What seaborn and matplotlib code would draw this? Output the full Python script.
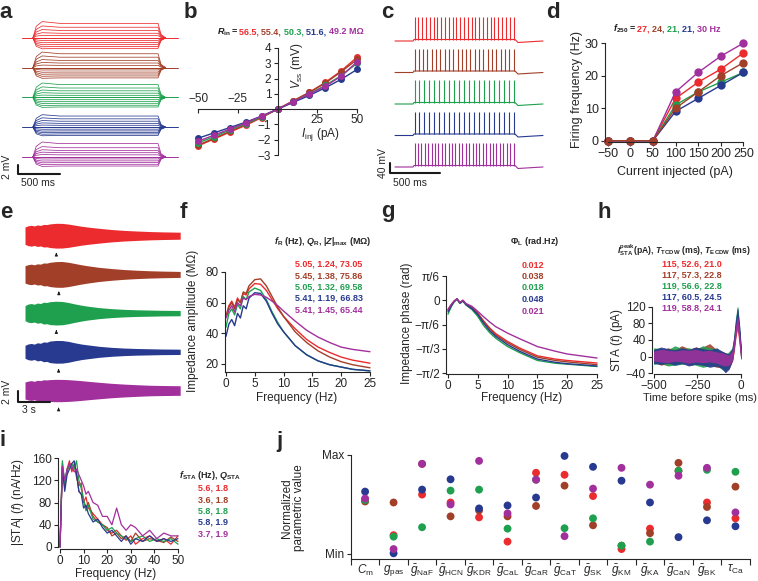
import matplotlib
matplotlib.use("Agg")
import matplotlib.pyplot as plt
import seaborn as sns
import pandas as pd
from matplotlib.offsetbox import TextArea, HPacker, AnnotationBbox

cell_colors = ["#ec2b2e", "#a23f29", "#1fa04f", "#273a90", "#a2309c"]

# b: steady-state voltage vs injected current
i_inj = [-50, -40, -30, -20, -10, 0, 10, 20, 30, 40, 50]
vss_red = [-2.4, -1.95, -1.5, -1.05, -0.55, 0, 0.55, 1.1, 1.75, 2.5, 3.4]
vss_brown = [-2.35, -1.9, -1.45, -1.0, -0.5, 0, 0.55, 1.1, 1.7, 2.45, 3.25]
vss_green = [-2.2, -1.8, -1.35, -0.95, -0.5, 0, 0.5, 1.0, 1.55, 2.2, 3.0]
vss_blue = [-1.9, -1.55, -1.2, -0.85, -0.45, 0, 0.45, 0.9, 1.4, 1.95, 2.6]
vss_purple = [-2.1, -1.7, -1.3, -0.9, -0.45, 0, 0.5, 1.0, 1.5, 2.15, 3.1]
rin = ["56.5", "55.4", "50.3", "51.6", "49.2"]

# d: firing frequency vs current
i_step = [-50, 0, 50, 100, 150, 200, 250]
fr_red = [0, 0, 0, 13, 18, 22, 27]
fr_brown = [0, 0, 0, 10, 15, 20, 24]
fr_green = [0, 0, 0, 11, 15, 18, 21]
fr_blue = [0, 0, 0, 9, 13, 17, 21]
fr_purple = [0, 0, 0, 15, 21, 26, 30]
f250 = [27, 24, 21, 21, 30]

# f: impedance amplitude
freq_z = [0, 0.5, 1, 1.5, 2, 2.5, 3, 3.5, 4, 5, 6, 7, 8, 9, 10, 12, 14, 16, 18, 20, 22, 25]
z_red = [51, 58, 61, 57, 63, 60, 66, 65, 69, 72.5, 72, 68, 62, 56, 51, 43, 36, 31, 27.5, 24.5, 22.5, 20.5]
z_brown = [51, 57, 60, 56, 62, 60, 67, 66, 71, 75, 75.5, 71, 64, 57, 51, 41, 34, 28.5, 24.5, 21.5, 19.5, 17.5]
z_green = [44, 53, 56, 52, 59, 56, 64, 62, 67, 69.5, 68, 62, 54, 47, 41, 32, 26, 22, 19.5, 18, 16.5, 15.5]
z_blue = [38, 46, 49, 45, 53, 50, 58, 56, 63, 66.5, 66, 61, 53, 46, 41, 32, 26, 22, 19.5, 18, 16.5, 15.5]
z_purple = [50, 55, 58, 54, 60, 58, 63, 62, 64, 65.4, 65, 63.5, 61, 58, 54.5, 48, 42, 37.5, 34, 31, 29.5, 28]
f_res = [5.05, 5.45, 5.05, 5.41, 5.41]
z_text = ["5.05, 1.24, 73.05", "5.45, 1.38, 75.86", "5.05, 1.32, 69.58",
          "5.41, 1.19, 66.83", "5.41, 1.45, 65.44"]

# g: impedance phase (rad)
freq_ph = [0, 0.5, 1, 1.5, 2, 2.5, 3, 3.5, 4, 5, 6, 7, 8, 10, 12, 15, 18, 20, 25]
ph_red = [-0.2, -0.1, -0.02, 0.03, -0.05, 0.0, -0.08, -0.12, -0.15, -0.28, -0.45, -0.6, -0.72, -0.89, -1.03, -1.2, -1.27, -1.30, -1.355]
ph_brown = [-0.22, -0.12, -0.03, 0.03, -0.06, -0.01, -0.09, -0.13, -0.16, -0.29, -0.47, -0.62, -0.75, -0.92, -1.06, -1.23, -1.30, -1.33, -1.39]
ph_green = [-0.3, -0.15, -0.04, 0.02, -0.07, -0.02, -0.1, -0.15, -0.2, -0.35, -0.55, -0.7, -0.82, -1.0, -1.13, -1.30, -1.36, -1.38, -1.43]
ph_blue = [-0.25, -0.13, -0.03, 0.03, -0.06, -0.01, -0.09, -0.14, -0.18, -0.31, -0.5, -0.66, -0.78, -0.96, -1.1, -1.27, -1.34, -1.37, -1.42]
ph_purple = [-0.2, -0.1, -0.02, 0.03, -0.05, 0.0, -0.07, -0.1, -0.13, -0.24, -0.36, -0.47, -0.57, -0.71, -0.83, -1.0, -1.1, -1.16, -1.247]
phi_text = ["0.012", "0.038", "0.018", "0.048", "0.021"]

# h: spike-triggered average (band low / high)
sta_t = [-500, -460, -420, -380, -340, -300, -260, -220, -180, -140, -110, -90, -70, -50, -40, -30, -20, -10, 0]
sta_red_hi = [15, 20, 12, 18, 20, 15, 22, 18, 15, 12, 10, 5, 0, 10, 30, 65, 85, 50, 10]
sta_red_lo = [-15, -18, -20, -12, -15, -18, -15, -20, -18, -22, -25, -30, -28, -10, 15, 50, 70, 35, 0]
sta_brown_hi = [18, 15, 20, 16, 25, 18, 20, 22, 30, 15, 12, 8, 5, 15, 40, 75, 100, 60, 15]
sta_brown_lo = [-12, -20, -15, -18, -12, -20, -18, -15, -20, -25, -25, -28, -25, -5, 25, 60, 85, 45, 5]
sta_green_hi = [20, 18, 15, 25, 18, 20, 15, 25, 20, 18, 10, 5, 10, 20, 45, 90, 120, 70, 10]
sta_green_lo = [-18, -15, -22, -20, -18, -15, -20, -25, -22, -20, -30, -35, -25, -5, 30, 75, 105, 55, -5]
sta_blue_hi = [16, 22, 18, 15, 20, 16, 22, 18, 15, 20, 12, 8, 5, 18, 45, 85, 115, 75, 20]
sta_blue_lo = [-16, -18, -15, -20, -16, -22, -18, -20, -25, -22, -28, -38, -30, -8, 30, 70, 100, 60, 0]
sta_purple_hi = [12, 16, 14, 12, 15, 14, 16, 12, 14, 10, 8, 5, 2, 12, 35, 70, 95, 55, 5]
sta_purple_lo = [-10, -12, -14, -10, -12, -15, -12, -14, -12, -15, -20, -22, -20, -8, 22, 55, 80, 40, -5]
sta_text = ["115, 52.6, 21.0", "117, 57.3, 22.8", "119, 56.6, 22.8", "117, 60.5, 24.5", "119, 58.8, 24.1"]

# i: STA spectrum
freq_s = [0, 1, 2, 3, 4, 5, 6, 7, 8, 9, 10, 11, 12, 14, 16, 18, 20, 22, 24, 26, 28, 30, 32, 35, 38, 41, 44, 47, 50]
s_red = [0, 150, 105, 140, 155, 135, 150, 125, 110, 115, 80, 90, 70, 60, 50, 40, 30, 25, 30, 20, 12, 20, 5, 15, 20, 10, 15, 5, 20]
s_brown = [0, 140, 110, 135, 150, 140, 145, 135, 100, 95, 85, 70, 80, 55, 45, 40, 35, 20, 25, 15, 20, 10, 25, 10, 15, 12, 8, 18, 10]
s_green = [0, 155, 115, 140, 145, 150, 140, 155, 120, 105, 85, 65, 75, 50, 45, 40, 30, 35, 25, 20, 15, 10, 15, 20, 10, 15, 10, 15, 5]
s_blue = [0, 145, 100, 130, 140, 150, 155, 130, 100, 95, 70, 75, 60, 45, 50, 35, 25, 30, 20, 10, 20, 5, 15, 10, 20, 10, 15, 10, 15]
s_purple = [0, 145, 120, 140, 150, 145, 135, 140, 130, 120, 110, 95, 100, 80, 75, 55, 55, 40, 70, 40, 30, 40, 35, 20, 30, 15, 25, 20, 20]
s_text = ["5.6, 1.8", "3.6, 1.8", "5.8, 1.8", "5.8, 1.9", "3.7, 1.9"]

# j: normalized parameters
params = [r"$C_{\rm m}$", r"$g_{\rm pas}$", r"$\bar{g}_{\rm NaF}$", r"$\bar{g}_{\rm HCN}$",
          r"$\bar{g}_{\rm KDR}$", r"$\bar{g}_{\rm CaL}$", r"$\bar{g}_{\rm CaR}$", r"$\bar{g}_{\rm CaT}$",
          r"$\bar{g}_{\rm SK}$", r"$\bar{g}_{\rm KM}$", r"$\bar{g}_{\rm KA}$", r"$\bar{g}_{\rm CaN}$",
          r"$\bar{g}_{\rm BK}$", r"$\tau_{\rm Ca}$"]
j_red = [0.55, 0.19, 0.60, 0.52, 0.37, 0.125, 0.82, 0.80, 0.585, 0.05, 0.256, 0.84, 0.52, 0.36]
j_brown = [0.53, 0.52, 0.91, 0.38, 0.44, 0.38, 0.485, 0.69, 0.29, 0.084, 0.21, 0.92, 0.475, 0.68]
j_green = [0.545, 0.175, 0.27, 0.64, 0.65, 0.256, 0.75, 0.26, 0.36, 0.084, 0.125, 0.84, 0.85, 0.83]
j_blue = [0.63, 0.007, 0.65, 0.754, 0.46, 0.49, 0.57, 0.99, 0.88, 0.74, 0.52, 0.17, 0.34, 0.28]
j_purple = [0.56, 0.05, 0.91, 0.50, 0.94, 0.41, 0.75, 0.18, 0.66, 0.87, 0.70, 0.79, 0.87, 0.42]

# protocol timings used for the example traces
a_on, a_off, a_end = 130, 1620, 1860      # ms
c_on, c_dur, c_end = 0.18, 1.02, 1.48     # s
chirp_T, chirp_amp = 14.5, 0.03           # s, nA

sns.set_theme(style="ticks")
plt.rcParams["font.family"] = ["Liberation Sans", "DejaVu Sans"]
plt.rcParams.update({
    "mathtext.fontset": "custom",
    "mathtext.rm": "Liberation Sans",
    "mathtext.it": "Liberation Sans:italic",
    "mathtext.bf": "Liberation Sans:bold",
    "mathtext.bfit": "Liberation Sans:italic:bold",
    "axes.linewidth": 0.8,
    "xtick.labelsize": 8, "ytick.labelsize": 8,
    "xtick.major.size": 3, "ytick.major.size": 3,
    "xtick.major.width": 0.8, "ytick.major.width": 0.8,
    "xtick.major.pad": 1.5, "ytick.major.pad": 1.5,
})

W, H = 758, 581
fig = plt.figure(figsize=(W / 100, H / 100), dpi=100)
ov = fig.add_axes([0, 0, 1, 1], zorder=10)
ov.set_xlim(0, W)
ov.set_ylim(H, 0)
ov.axis("off")


def px_axes(l, t, r, b):
    ax = fig.add_axes([l / W, 1 - b / H, (r - l) / W, (b - t) / H])
    ax.patch.set_visible(False)
    return ax


def label(x, y, s, size=8, **kw):
    ov.text(x, y, s, ha="center", va="center", fontsize=size, **kw)


def color_line(x, y, pieces, size=6.5):
    boxes = [TextArea(s, textprops=dict(color=c, fontsize=size, fontweight="bold")) for s, c in pieces]
    pack = HPacker(children=boxes, align="baseline", pad=0, sep=0)
    ov.add_artist(AnnotationBbox(pack, (x, y), xycoords="data", frameon=False,
                                 box_alignment=(0.5, 0.5), pad=0))


def style(ax):
    sns.despine(ax=ax)
    ax.tick_params(direction="out")


for s, x, y in [("a", 6, 12), ("b", 190, 12), ("c", 387, 12), ("d", 553, 12),
                ("e", 6, 212), ("f", 183, 212), ("g", 388, 212), ("h", 604, 212),
                ("i", 3, 440), ("j", 279, 442)]:
    label(x, y, s, size=16, fontweight="bold")

vss_all = [vss_red, vss_brown, vss_green, vss_blue, vss_purple]

# ---- a: step responses
ax = px_axes(15, 15, 182, 180)
ax.set_xlim(-83, 1905)
ax.set_ylim(-32.94, 5.34)
ax.axis("off")
for k, (vals, c) in enumerate(zip(vss_all, cell_colors)):
    base = -k * 6.9
    ax.plot([0, a_end], [base, base], color=c, lw=0.7)
    for v in vals:
        over = 1.12 if v > 0 else 1.04
        t = [a_on, a_on + 40, a_on + 110, a_on + 320, a_off, a_off + 35, a_off + 90]
        y = [0, 0.8 * v, over * v, v, v, 0.25 * v, 0]
        ax.plot(t, [base + yy for yy in y], color=c, lw=0.55)
ax.plot([-48, -48, 452], [-29.55, -31.55, -31.55], color="k", lw=1.5, clip_on=False)
label(38, 183, "500 ms", size=7.5)
label(7, 167, "2 mV", size=7.5, rotation=90)

# ---- b: V-I
ax = px_axes(195, 47, 362, 156)
for vals, c in zip(vss_all, cell_colors):
    sns.lineplot(x=i_inj, y=vals, color=c, ax=ax, lw=1, marker="o", markersize=5,
                 markeredgewidth=0, estimator=None)
ax.set_xlim(-51.9, 53.1)
ax.set_ylim(-3.06, 4.065)
ax.spines["left"].set_position(("data", 0))
ax.spines["bottom"].set_position(("data", 0))
ax.spines["right"].set_visible(False)
ax.spines["top"].set_visible(False)
ax.spines["bottom"].set_bounds(-50, 50)
ax.spines["left"].set_bounds(-3, 4)
ax.set_xticks([-50, -25, 25, 50])
ax.set_xticklabels([])
ax.set_yticks([-3, -2, -1, 1, 2, 3, 4])
ax.tick_params(direction="out", labelsize=8.5)
for xv in [-50, -25]:
    ax.text(xv, 0.3, f"\u2212{abs(xv)}", ha="center", va="bottom", fontsize=8.5)
for xv in [25, 50]:
    ax.text(xv, -0.3, str(xv), ha="center", va="top", fontsize=8.5)
label(297, 66, r"$V_{\rm ss}$ (mV)", size=8.5, rotation=90)
label(320, 135, r"$I_{\rm inj}$ (pA)", size=8.5)
color_line(290, 32, [(r"$\mathbfit{R}_{\mathbf{in}}$ = ", "k")] +
           [(v + (" M\u03a9" if k == 4 else ", "), cell_colors[k]) for k, v in enumerate(rin)])

# ---- c: spike trains
ax = px_axes(385, 8, 548, 182)
ax.set_xlim(-0.10, 1.53)
ax.set_ylim(-564, 132)
ax.axis("off")
for k, (n, c) in enumerate(zip(f250, cell_colors)):
    base = -126 * k
    off = c_on + c_dur
    ax.plot([0, c_on, c_on + 0.01, off, off + 0.03, off + 0.15, c_end],
            [base, base, base + 6, base + 6, base - 6, base - 3, base], color=c, lw=0.8)
    spikes = [c_on + 0.015 + j * (c_dur - 0.03) / (n - 1) for j in range(n)]
    ax.vlines(spikes, base + 6, base + 96, color=c, lw=0.8)
ax.plot([-0.05, -0.05, 0.45], [-488, -528, -528], color="k", lw=1.5, clip_on=False)
label(410, 183, "500 ms", size=7.5)
label(383, 163, "40 mV", size=7.5, rotation=90)

# ---- d: f-I
ax = px_axes(605, 40, 746, 142)
fr_all = [fr_red, fr_green, fr_blue, fr_purple, fr_brown]
col_d = [cell_colors[0], cell_colors[2], cell_colors[3], cell_colors[4], cell_colors[1]]
for vals, c in zip(fr_all, col_d):
    sns.lineplot(x=i_step, y=vals, color=c, ax=ax, lw=1, marker="o", markersize=6,
                 markeredgewidth=0, estimator=None, clip_on=False)
ax.set_xlim(-56, 256)
ax.set_ylim(-0.4, 31)
style(ax)
ax.spines["left"].set_bounds(0, 30)
ax.spines["bottom"].set_bounds(-50, 250)
ax.set_xticks([-50, 0, 50, 100, 150, 200, 250])
ax.set_yticks([0, 10, 20, 30])
ax.tick_params(labelsize=9)
label(675, 172, "Current injected (pA)", size=9)
label(577, 90, "Firing frequency (Hz)", size=9, rotation=90)
color_line(667, 29, [(r"$\mathbfit{f}_{\mathbf{250}}$ = ", "k")] +
           [(str(v) + (" Hz" if k == 4 else ", "), cell_colors[k]) for k, v in enumerate(f250)])

# ---- e: chirp responses
z_all = [z_red, z_brown, z_green, z_blue, z_purple]
ax = px_axes(15, 188, 185, 422)
ax.set_xlim(-0.935, 14.95)
ax.set_ylim(-32.68, 8.37)
ax.axis("off")
t_chirp = [f / 25 * chirp_T for f in freq_z]
for k, (zs, c) in enumerate(zip(z_all, cell_colors)):
    base = -6.79 * k
    env = [z * chirp_amp for z in zs]
    ax.fill_between(t_chirp, [base - e for e in env], [base + e for e in env], color=c, lw=0)
    tr = f_res[k] / 25 * chirp_T
    ax.annotate("", xy=(tr, base - 2.5), xytext=(tr, base - 3.7),
                arrowprops=dict(arrowstyle="-|>", color="k", lw=0.7, mutation_scale=4))
ax.plot([-0.65, -0.65, 2.35], [-27.17, -29.17, -29.17], color="k", lw=1.5, clip_on=False)
label(29, 410, "3 s", size=7.5)
label(7, 392, "2 mV", size=7.5, rotation=90)

# ---- f: impedance amplitude
ax = px_axes(225, 270, 372, 372)
for zs, c in zip(z_all, cell_colors):
    sns.lineplot(x=freq_z, y=zs, color=c, ax=ax, lw=1, estimator=None)
ax.set_xlim(-0.17, 25.35)
ax.set_ylim(14.77, 81.3)
style(ax)
ax.spines["left"].set_bounds(14.77, 80)
ax.spines["bottom"].set_bounds(-0.17, 25)
ax.set_xticks([0, 5, 10, 15, 20, 25])
ax.set_yticks([20, 40, 60, 80])
ax.tick_params(labelsize=8.5)
label(297, 398, "Frequency (Hz)", size=8.5)
label(193, 321, "Impedance amplitude (M\u03a9)", size=8.5, rotation=90)
label(323, 242, r"$\mathbfit{f}_{\mathbf{R}}$ (Hz), $\mathbfit{Q}_{\mathbf{R}}$, |$\mathbfit{Z}$|$_{\mathbf{max}}$ (M$\mathbf{\Omega}$)",
      size=6.5, fontweight="bold")
for k, s in enumerate(z_text):
    label(329, 264 + 11.5 * k, s, size=6.5, fontweight="bold", color=cell_colors[k])

# ---- g: impedance phase
ph_all = [ph_red, ph_brown, ph_green, ph_blue, ph_purple]
ax = px_axes(446, 274, 600, 374)
for ps, c in zip(ph_all, cell_colors):
    sns.lineplot(x=freq_ph, y=ps, color=c, ax=ax, lw=1, estimator=None)
ax.set_xlim(-0.34, 25.5)
ax.set_ylim(-1.592, 0.567)
style(ax)
pi = 3.141592653589793
ax.spines["left"].set_bounds(-pi / 2, pi / 6)
ax.spines["bottom"].set_bounds(-0.34, 25)
ax.set_yticks([-pi / 2, -pi / 3, -pi / 6, 0, pi / 6])
ax.set_yticklabels(["\u2212\u03c0/2", "\u2212\u03c0/3", "\u2212\u03c0/6", "0", "\u03c0/6"])
ax.set_xticks([0, 5, 10, 15, 20, 25])
ax.tick_params(labelsize=8.5)
label(522, 398, "Frequency (Hz)", size=8.5)
label(407, 323, "Impedance phase (rad)", size=8.5, rotation=90)
label(535, 242, r"$\mathbf{\Phi}_{\mathbf{L}}$ (rad.Hz)", size=6.5, fontweight="bold")
for k, s in enumerate(phi_text):
    label(533, 265 + 11.5 * k, s, size=6.5, fontweight="bold", color=cell_colors[k])

# ---- h: STA
sta_bands = [(sta_red_lo, sta_red_hi), (sta_brown_lo, sta_brown_hi), (sta_green_lo, sta_green_hi),
             (sta_blue_lo, sta_blue_hi), (sta_purple_lo, sta_purple_hi)]
ax = px_axes(652, 305, 745, 374)
for (lo, hi), c in zip(sta_bands, cell_colors):
    ax.fill_between(sta_t, lo, hi, color=c, lw=0.6, alpha=0.85)
ax.set_xlim(-511.5, 23)
ax.set_ylim(-42.4, 124.8)
style(ax)
ax.spines["left"].set_bounds(-40, 120)
ax.spines["bottom"].set_bounds(-500, 0)
ax.set_xticks([-500, -250, 0])
ax.set_yticks([-40, 0, 40, 80, 120])
ax.tick_params(labelsize=8.5)
label(700, 398, "Time before spike (ms)", size=8)
label(617, 340, r"STA ($t$) (pA)", size=8.5, rotation=90)
label(684, 250, r"$\mathbfit{I}^{\mathbf{peak}}_{\mathbf{STA}}$(pA), $\mathbfit{T}_{\mathbf{TCDW}}$ (ms), $\mathbfit{T}_{\mathbf{ECDW}}$ (ms)",
      size=6.2, fontweight="bold")
for k, s in enumerate(sta_text):
    label(692, 264 + 11 * k, s, size=6.5, fontweight="bold", color=cell_colors[k])

# ---- i: STA spectrum
s_all = [s_red, s_brown, s_green, s_blue, s_purple]
ax = px_axes(58, 456, 182, 549)
for ss, c in zip(s_all, cell_colors):
    sns.lineplot(x=freq_s, y=ss, color=c, ax=ax, lw=0.9, estimator=None)
ax.set_xlim(-0.85, 51.7)
ax.set_ylim(-3.6, 163.6)
style(ax)
ax.spines["left"].set_bounds(0, 160)
ax.spines["bottom"].set_bounds(0, 50)
ax.set_xticks([0, 10, 20, 30, 40, 50])
ax.set_yticks([0, 40, 80, 120, 160])
ax.tick_params(labelsize=8.5)
label(116, 574, "Frequency (Hz)", size=8.5)
label(18, 502, r"|STA| ($f$) (nA/Hz)", size=8.5, rotation=90)
label(210, 475, r"$\mathbfit{f}_{\mathbf{STA}}$ (Hz), $\mathbfit{Q}_{\mathbf{STA}}$", size=6.5, fontweight="bold")
for k, s in enumerate(s_text):
    label(213, 488 + 11.5 * k, s, size=6.5, fontweight="bold", color=cell_colors[k])

# ---- j: parameters
j_all = [j_red, j_brown, j_green, j_blue, j_purple]
df_j = pd.DataFrame({
    "param": [p for _ in j_all for p in range(len(params))],
    "value": [v for vals in j_all for v in vals],
    "cell": [k for k, vals in enumerate(j_all) for _ in vals],
})
ax = px_axes(348, 450, 750, 561)
sns.scatterplot(data=df_j, x="param", y="value", hue="cell", palette=cell_colors, s=32,
                edgecolor="none", legend=False, ax=ax, clip_on=False)
ax.set_xlim(-0.6, 13.51)
ax.set_ylim(-0.0707, 1.05)
sns.despine(ax=ax)
ax.spines["left"].set_position(("data", -0.5))
ax.spines["bottom"].set_position(("data", -0.05))
ax.spines["left"].set_bounds(-0.05, 1)
ax.spines["bottom"].set_bounds(-0.5, 13.5)
ax.set_yticks([0, 1])
ax.set_yticklabels(["Min", "Max"])
ax.set_xticks(range(len(params)))
ax.set_xticklabels(params)
ax.set_xticks([k - 0.5 for k in range(len(params) + 1)], minor=True)
ax.tick_params(axis="x", which="major", length=0, labelsize=8.5, pad=3)
ax.tick_params(axis="x", which="minor", length=4, width=0.8, direction="out")
ax.tick_params(axis="y", labelsize=8.5, direction="out")
ax.set_xlabel("")
ax.set_ylabel("")
label(293, 508, "Normalized\nparametric value", size=8.5, rotation=90, linespacing=1.1)

fig.savefig("out.png", dpi=100)
